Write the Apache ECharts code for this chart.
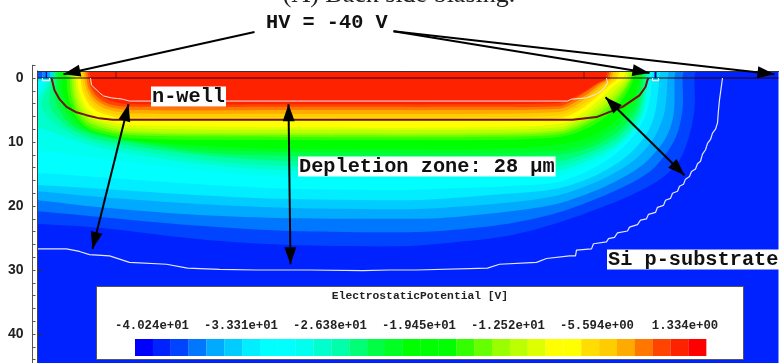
<!DOCTYPE html>
<html><head><meta charset="utf-8">
<style>html,body{margin:0;padding:0;background:#fff}#c{width:779px;height:363px}</style>
<script src="https://cdn.jsdelivr.net/npm/echarts@6/dist/echarts.min.js"></script>
</head><body><div id="c"></div>
<script>
// Contour boundaries: [lateral position, depth in um]. Each region lies above and inside its line.
const band02=[[-18,22.8],[-1,22.8],[62,23.4],[162,25.2],[252,26.1],[362,26.3],[402,25.9],[469,24.7],[519,22.7],[585,18.9],[622,15.9],[642,12.8],[652,8.9],[657,4.7],[657,0]];
const band03=[[-18,20.8],[-1,20.8],[62,21.7],[162,23.1],[252,23.9],[362,24.1],[402,23.9],[469,22.8],[519,21.1],[572,18],[614,14.4],[637,9.7],[645,5],[645,0]];
const band04=[[-18,19.1],[-1,19.1],[62,20.2],[162,21.4],[252,21.9],[362,22],[402,21.9],[469,20.9],[519,19.7],[567,17],[605,13.6],[627,9.7],[636,5.8],[637,0]];
const band05=[[-18,17.7],[-1,17.7],[62,18.6],[162,19.7],[252,20.3],[362,20.5],[402,20.3],[469,19.5],[519,18.4],[562,16],[597,12.8],[617,9.2],[627,5.3],[630,0]];
const band06=[[3,0],[-18,0],[-18,16.7],[-1,16.7],[62,17.3],[162,18.3],[252,18.9],[362,19.1],[402,18.9],[469,18.1],[519,17.3],[557,15.3],[587,12.5],[607,9.2],[617,5.8],[622,0]];
const band07=[[6,0],[-1,0.6],[-18,0.6],[-18,14.8],[-1,14.8],[62,15.5],[162,16.6],[252,17.3],[362,17.5],[402,17.3],[469,16.9],[519,16.3],[552,14.4],[577,12],[597,8.9],[608,5.8],[613,2.7],[614,0]];
const band08=[[10,0],[-1,1.9],[-18,1.9],[-18,11.3],[-1,11.3],[62,12.5],[162,14.4],[252,15.5],[362,15.6],[442,15.6],[519,15.3],[552,13.6],[578,11.3],[600,7.7],[612,3.4],[613,0]];
const band09=[[12,0],[-1,3],[-18,3],[-18,7.7],[-1,7.7],[62,10.9],[162,13.4],[252,14.5],[362,14.7],[442,14.7],[519,14.5],[552,12.8],[580,10.5],[603,6.4],[611,0]];
const band10=[[14,0],[8,2.2],[4,4.5],[22,7.7],[62,10.2],[162,12.7],[252,13.8],[362,13.9],[442,13.9],[519,13.8],[552,12.2],[582,9.8],[602,5.9],[609,0]];
const band11=[[16,0],[12,2.7],[14,5],[32,7.8],[62,9.7],[162,12],[252,13],[362,13.1],[442,13.1],[519,13],[552,11.6],[582,9],[601,5.3],[608,0]];
const band12=[[19,0],[18,3.4],[27,6.3],[42,8.1],[72,9.4],[162,11.6],[252,12.2],[362,12.3],[442,12.3],[519,12],[552,10.9],[581,8.3],[599,4.8],[606,0]];
const band13=[[21,0],[22,3.1],[32,6.3],[47,8.1],[77,9.4],[162,11.1],[252,11.6],[362,11.7],[442,11.7],[519,11.4],[552,10.2],[580,7.5],[597,4.2],[604,0]];
const band14=[[24,0],[26,2.7],[36,6.1],[52,8.1],[92,9.7],[162,10.6],[252,11.1],[362,11.1],[442,11.1],[512,10.6],[552,9.2],[579,6.6],[595,3.4],[602,0]];
const band15=[[29,0],[31,3.1],[39,6.1],[52,8],[92,9.4],[252,9.7],[362,9.7],[442,9.7],[522,9.2],[552,7.7],[574,5.3],[588,2.7],[596,0]];
const band16=[[32,0],[34,3],[41,5.8],[54,7.7],[92,8.9],[252,9.2],[442,9.2],[522,8.8],[550,7.2],[572,4.8],[586,2.3],[594,0]];
const band17=[[34,0],[36,2.8],[43,5.6],[56,7.3],[92,8.6],[252,8.9],[442,8.9],[522,8.4],[548,6.9],[570,4.5],[584,2.2],[593,0]];
const band18=[[36,0],[38,2.7],[45,5.3],[58,7],[92,8.3],[252,8.6],[442,8.6],[522,8.1],[546,6.6],[567,4.2],[582,1.9],[591,0]];
const band19=[[38,0],[40,2.5],[47,5],[60,6.7],[92,7.8],[252,8.1],[442,8.1],[522,7.7],[544,6.3],[564,3.9],[579,1.7],[589,0]];
const band20=[[40,0],[42,2.2],[49,4.7],[62,6.3],[92,7.3],[252,7.7],[442,7.7],[522,7.2],[542,5.8],[562,3.4],[575,1.4],[586,0]];
const band21=[[43,0],[45,2],[52,4.2],[64,5.5],[92,6.4],[252,6.6],[442,6.6],[522,6.3],[540,5.2],[558,3.1],[570,1.4],[580,0]];
const band22=[[45,0],[47,1.9],[54,3.9],[66,5.2],[92,6],[252,6.1],[442,6.1],[522,5.8],[538,4.8],[556,2.8],[567,1.3],[577,0]];
const band23=[[47,0],[49,1.7],[56,3.6],[68,4.8],[92,5.5],[252,5.6],[442,5.6],[522,5.3],[536,4.5],[552,2.7],[565,1.1],[574,0]];
const band24=[[49,0],[51,1.6],[58,3.3],[70,4.4],[92,5],[252,5],[442,5],[522,4.8],[534,4.1],[550,2.5],[563,0.9],[572,0]];
const band25=[[51,0],[53,1.4],[60,3],[72,4.1],[92,4.5],[252,4.5],[442,4.5],[522,4.4],[532,3.8],[548,2.2],[561,0.8],[570,0]];
const band26=[[53,0],[55,1.3],[62,2.7],[74,3.6],[92,4.1],[252,4.1],[442,4.1],[522,3.9],[532,3.4],[546,2.2],[559,0.9],[568,0]];
const bands=[band02,band03,band04,band05,band06,band07,band08,band09,band10,band11,band12,band13,band14,band15,band16,band17,band18,band19,band20,band21,band22,band23,band24,band25,band26];
const bandColors=['#0044ff','#0077ff','#00aaff','#00ccff','#00eeff','#00ffff','#00ffee','#00ffcc','#00ffaa','#00ff77','#00ff44','#00ff22','#00ff00','#33ff00','#66ff00','#99ff00','#bbff00','#ddff00','#ffff00','#ffdd00','#ffcc00','#ffaa00','#ff7700','#ff4400','#ff2200'];
const substrateColor='#0022ff';
const scaleColors=['#0000ff','#0022ff','#0044ff','#0077ff','#00aaff','#00ccff','#00eeff','#00ffff','#00ffff','#00ffee','#00ffcc','#00ffaa','#00ff77','#00ff44','#00ff22','#00ff00','#00ff00','#00ff00','#33ff00','#66ff00','#99ff00','#bbff00','#ddff00','#ffff00','#ffff00','#ffdd00','#ffcc00','#ffaa00','#ff7700','#ff4400','#ff2200','#ff0000'];
const scaleLabels=['-4.024e+01','-3.331e+01','-2.638e+01','-1.945e+01','-1.252e+01','-5.594e+00','1.334e+00'];
const wellJunction=[[14,0],[17,1.9],[22,3.3],[29,4.5],[38,5.3],[49,5.8],[62,6.3],[75,6.5],[535,6.5],[559,6.1],[585,4.5],[602,2.7],[608,1.4],[610,0.3],[611,0]];
const wellEdge=[[53,0],[54,1.1],[62,2.3],[66,2.8],[74,3.1],[80,3.2],[85,3.3],[92,3.6],[530,3.6],[534,3.3],[549,3.1],[550,2.8],[559,2.5],[565,1.9],[570,0.8],[569,0]];
const depletionEdge=[[0,26.7],[29,26.7],[42,27.1],[52,27.6],[72,27.8],[92,28.8],[129,29.1],[150,29.7],[182,29.9],[219,30],[272,30],[325,30.1],[352,30],[379,30],[450,29.7],[462,29.1],[499,28.8],[509,28.2],[532,27.8],[538,27.8],[539,26.9],[554,26.7],[556,25.9],[569,25.6],[571,25.1],[577,24.9],[580,24.2],[590,23.9],[592,23.3],[600,22.9],[603,22.2],[609,22],[611,21.3],[618,21],[620,20.2],[626,19.9],[628,19.1],[633,18.8],[635,18],[640,17.7],[642,16.9],[646,16.6],[648,15.8],[652,15.4],[654,14.6],[658,14.2],[660,13.4],[663,13],[665,11.9],[668,11.2],[670,10.2],[673,9.6],[675,8.6],[678,8],[680,7],[681,5],[682,3.4],[685,0]];
const contactEdgeL=[[5,0],[5,0.4],[12,0.4],[12,0]];
const contactEdgeR=[[615,0],[615,0.4],[621,0.4],[621,0]];
const surfaceLine=[[0,0],[741,0]];
// [x0,x1,depth0,depth1,colour]
const surfacePatches=[[0,5,-1.1,0,'#0055ff'],[5,8,-1.1,0,'#0088ff'],[8,10,-1.1,0,'#0000cc'],[10,13,-1.1,0,'#00aaff'],[13,16,-1.1,0,'#00ddff'],[617,619,-1.1,0,'#0000bb'],[78,79,-1.1,0,'#7a1010'],[546,547,-1.1,0,'#7a1010']];
// [x0,d0,x1,d1,double-headed]
const arrows=[[217,-7.2,26,-0.6,0],[356,-7.3,612,-0.8,0],[356,-7.3,737,-0.6,0],[55,26.7,91,4.1,1],[253,29.1,251,4.1,1],[647,15.2,568,3,1]];
const yMajor=[0,10,20,30,40];

const mono='"Liberation Mono",monospace';
function lineS(data,color,width,z){return {type:'line',data,showSymbol:false,silent:true,z,lineStyle:{color,width},clip:true,animation:false};}
function txt(text,x,y,size,opts){return Object.assign({type:'text',z:20,x,y,style:{text,fill:'#111',font:'bold '+size+'px '+mono,textVerticalAlign:'middle'}},opts||{});}
const chart=echarts.init(document.getElementById('c'),null,{renderer:'canvas'});
const g=[];
g.push({type:'rect',z:15,shape:{x:96.5,y:286.5,width:647,height:73},style:{fill:'#fff',stroke:'#555',lineWidth:1}});
g.push(txt('ElectrostaticPotential [V]',420,296,11.3,{style:{text:'ElectrostaticPotential [V]',fill:'#222',font:'bold 11.3px '+mono,textAlign:'center',textVerticalAlign:'middle'}}));
scaleLabels.forEach((t,i)=>g.push({type:'text',z:20,x:152+i*89+(i==6?-1:0),y:326,style:{text:t,fill:'#222',font:'bold 12.3px '+mono,textAlign:'center',textVerticalAlign:'middle'}}));
scaleColors.forEach((c,i)=>g.push({type:'rect',z:18,shape:{x:135+i*17.85,y:339,width:18,height:17},style:{fill:c}}));
function boxed(text,x,y){g.push({type:'text',z:20,x,y,style:{text,fill:'#111',font:'bold 20.3px '+mono,backgroundColor:'#fff',padding:[0,1,0,1],textVerticalAlign:'middle'}});}
boxed('n-well',151,96.5);boxed('Depletion zone: 28 µm',298,166.5);boxed('Si p-substrate',607,259.5);
g.push(txt('HV = -40 V',266,23,20.3));
g.push({type:'text',z:20,x:399,y:-5,style:{text:'(A) Back side biasing.',fill:'#222',font:'26px "Liberation Serif",serif',textAlign:'center',textVerticalAlign:'middle'}});

chart.setOption({
 animation:false,
 graphic:g,
 grid:[{left:37.5,top:71,width:741,height:292,show:true,backgroundColor:substrateColor,borderWidth:0},
       {left:37.5,top:65.2,width:741,height:297.8,show:false}],
 xAxis:[{type:'value',min:0,max:741,position:'top',gridIndex:0,axisLabel:{show:false},axisTick:{show:false},splitLine:{show:false},axisLine:{show:true,onZero:false,lineStyle:{color:'#333',width:1}},z:6},
        {type:'value',min:0,max:741,gridIndex:1,show:false}],
 yAxis:[{type:'value',min:-1.1,max:44.53,inverse:true,gridIndex:0,axisLabel:{show:false},axisTick:{show:false},splitLine:{show:false},axisLine:{show:true,onZero:false,lineStyle:{color:'#444',width:1}},z:6},
        {type:'value',min:-2,max:44.53,interval:2,inverse:true,gridIndex:1,position:'left',offset:5,splitLine:{show:false},axisLabel:{show:false},axisTick:{inside:true,length:3,lineStyle:{color:'#555'}},axisLine:{show:true,onZero:false,lineStyle:{color:'#555',width:1}}},
        {type:'value',min:-2,max:44.53,inverse:true,gridIndex:1,position:'left',offset:5,splitLine:{show:false},axisLine:{show:false},
         axisTick:{inside:true,length:5,customValues:yMajor,lineStyle:{color:'#333'}},
         axisLabel:{customValues:yMajor,margin:9,color:'#222',fontFamily:'"Liberation Sans",sans-serif',fontWeight:'bold',fontSize:14}}],
 series:[
  {type:'custom',z:2,clip:true,silent:true,data:bands.map((b,i)=>[i]),encode:{},
   renderItem:(p,api)=>{const b=bands[api.value(0)];const pts=[[b[0][0],-3],...b,[b[b.length-1][0],-3]].map(q=>api.coord(q));
     return {type:'polygon',shape:{points:pts,smooth:0.3},style:{fill:bandColors[api.value(0)]}};}},
  {type:'custom',z:3,clip:true,silent:true,data:surfacePatches.map((b,i)=>[i]),
   renderItem:(p,api)=>{const s=surfacePatches[api.value(0)];const a=api.coord([s[0],s[2]]),c=api.coord([s[1],s[3]]);
     return {type:'rect',shape:{x:a[0],y:a[1],width:c[0]-a[0],height:c[1]-a[1]},style:{fill:s[4]}};}},
  lineS(surfaceLine,'rgba(50,0,0,0.65)',1.6,4),
  lineS(wellJunction,'#7a0d0d',2,4),
  lineS(wellEdge,'#f6e8e8',1,4),
  lineS(depletionEdge,'#e4e8ff',1.2,4),
  lineS(contactEdgeL,'#eef',1.2,4),
  lineS(contactEdgeR,'#eef',1.2,4),
  {type:'custom',z:8,clip:false,silent:true,data:arrows.map((b,i)=>[i]),
   renderItem:(p,api)=>{const s=arrows[api.value(0)];const a=api.coord([s[0],s[1]]),c=api.coord([s[2],s[3]]);
     const head=(from,to)=>{const dx=to[0]-from[0],dy=to[1]-from[1],l=Math.hypot(dx,dy),ux=dx/l,uy=dy/l,L=17,W=6;
       return {type:'polygon',shape:{points:[to,[to[0]-ux*L-uy*W,to[1]-uy*L+ux*W],[to[0]-ux*L+uy*W,to[1]-uy*L-ux*W]]},style:{fill:'#000'}};};
     const ch=[{type:'line',shape:{x1:a[0],y1:a[1],x2:c[0],y2:c[1]},style:{stroke:'#000',lineWidth:2}},head(a,c)];
     if(s[4])ch.push(head(c,a));
     return {type:'group',children:ch};}}
 ]
});
</script></body></html>
